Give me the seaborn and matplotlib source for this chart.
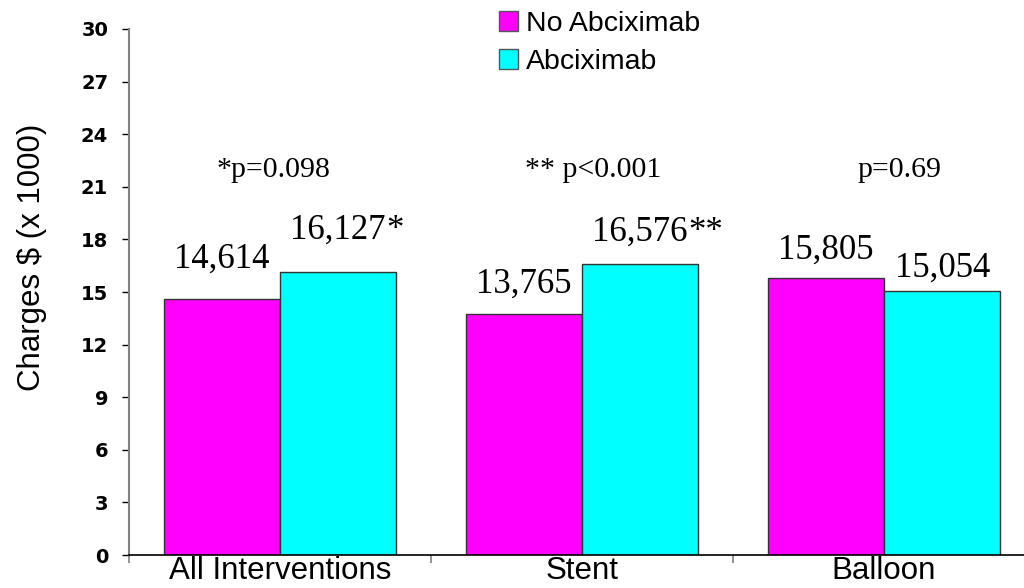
import pandas as pd
import matplotlib
matplotlib.use('Agg')
import matplotlib.pyplot as plt
import seaborn as sns

# Data
categories = ['All Interventions', 'Stent', 'Balloon']
groups = ['No Abciximab', 'Abciximab']
no_abcix = [14.614, 13.765, 15.805]
abcix = [16.127, 16.576, 15.054]
no_abcix_labels = ['14,614', '13,765', '15,805']
abcix_labels = ['16,127', '16,576', '15,054']
abcix_marks = ['*', '**', '']
p_labels = ['*p=0.098', '** p<0.001', 'p=0.69']
yticks = [0, 3, 6, 9, 12, 15, 18, 21, 24, 27, 30]

# label placement tweaks (points)
pad_no = [22, 15, 14]
pad_ab = [24, 17, 10]
p_dx = [-5, 8, 11]

df = pd.DataFrame({
    'category': categories * 2,
    'group': [groups[0]] * 3 + [groups[1]] * 3,
    'charges': no_abcix + abcix,
})

sns.set_style('white')
plt.rcParams['font.family'] = ['Liberation Sans', 'DejaVu Sans']
plt.rcParams['text.color'] = 'black'
plt.rcParams['xtick.color'] = 'black'
plt.rcParams['ytick.color'] = 'black'
plt.rcParams['axes.labelcolor'] = 'black'

fig = plt.figure(figsize=(10.24, 5.88), dpi=100)
ax = fig.add_axes([0.126, 0.0561, 0.8848, 0.8946])

sns.barplot(data=df, x='category', y='charges', hue='group',
            order=categories, hue_order=groups,
            palette=['#FF00FF', '#00FFFF'], width=0.77, gap=0,
            edgecolor='#333333', linewidth=1, saturation=1, ax=ax)

# value labels above bars (asterisks hang to the right of the number)
label_sets = [(no_abcix_labels, ['', '', ''], pad_no), (abcix_labels, abcix_marks, pad_ab)]
for container, (labels, marks, pads) in zip(ax.containers, label_sets):
    for patch, lab, mark, pad in zip(container, labels, marks, pads):
        t = ax.annotate(lab, (patch.get_x() + patch.get_width() / 2, patch.get_height()),
                        xytext=(0, pad), textcoords='offset points',
                        ha='center', va='baseline', fontsize=25,
                        family='Liberation Serif')
        if mark:
            ax.annotate(mark, xy=(1, 0), xycoords=t, ha='left', va='bottom',
                        fontsize=25, family='Liberation Serif')

# p-values
for i, (lab, dx) in enumerate(zip(p_labels, p_dx)):
    ax.annotate(lab, (i, 21.56), xytext=(dx, 0), textcoords='offset points',
                ha='center', va='baseline', fontsize=21.5,
                family='Liberation Serif')

ax.set_xlim(-0.5, 2.5)
ax.set_ylim(0, 30)
ax.set_yticks(yticks)
ax.set_yticklabels([str(t) for t in yticks], fontsize=14, fontweight='bold',
                   family='DejaVu Sans')
ax.tick_params(axis='y', length=5, width=1, color='black', pad=10, left=True)

ax.set_xticks(range(len(categories)))
ax.set_xticklabels(categories, fontsize=22.5)
ax.tick_params(axis='x', which='major', length=0, pad=0.5)
ax.set_xticks([-0.5, 0.5, 1.5, 2.5], minor=True)
ax.tick_params(axis='x', which='minor', length=6, width=1.2, color='#808080', bottom=True)

ax.set_xlabel('')
ax.set_ylabel('Charges $ (x 1000)', fontsize=22.5)
ax.yaxis.set_label_coords(-0.091, 0.565)

for s in ['top', 'right']:
    ax.spines[s].set_visible(False)
ax.spines['left'].set_color('#808080')
ax.spines['left'].set_linewidth(1.5)
ax.spines['bottom'].set_color('black')
ax.spines['bottom'].set_linewidth(1.2)

handles, labels = ax.get_legend_handles_labels()
for h in handles:
    h.set_edgecolor('#555555')
ax.legend(handles, labels, loc='upper left', bbox_to_anchor=(499 / 1024, 1 - 11 / 588),
          bbox_transform=fig.transFigure, frameon=False, fontsize=20.5,
          handlelength=0.66, handleheight=0.66, handletextpad=0.3,
          labelspacing=0.42, borderpad=0, borderaxespad=0)

plt.savefig('out.png', dpi=100)
